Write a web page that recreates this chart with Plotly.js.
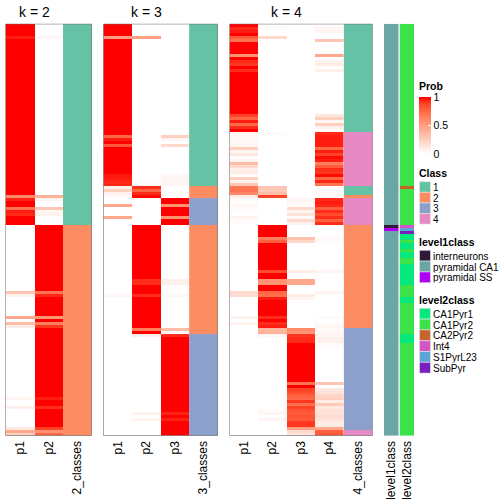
<!DOCTYPE html>
<html>
<head>
<meta charset="utf-8">
<script src="https://cdn.plot.ly/plotly-3.0.1.min.js"></script>
<style>html,body{margin:0;padding:0;background:#fff;}#chart{width:504px;height:504px;}</style>
</head>
<body>
<div id="chart"></div>
<script>
// ---------------- DATA (row order shared by all panels, 137 rows) ----------------
const k2Labels = ['p1', 'p2', '2_classes'];
const k3Labels = ['p1', 'p2', 'p3', '3_classes'];
const k4Labels = ['p1', 'p2', 'p3', 'p4', '4_classes'];
const classNames = ['1', '2', '3', '4'];
const classColors = ['#66C2A5', '#FC8D62', '#8DA0CB', '#E78AC3'];
const level1Names = ['interneurons', 'pyramidal CA1', 'pyramidal SS'];
const level1Colors = ['#2F1B39', '#6AA6A6', '#B000F5'];
const level2Names = ['CA1Pyr1', 'CA1Pyr2', 'CA2Pyr2', 'Int4', 'S1PyrL23', 'SubPyr'];
const level2Colors = ['#04E87C', '#3BE24A', '#C8632A', '#D655C6', '#5BA5D4', '#7A1FBF'];

const k2p1 = [
1,1,1,1,.95,1,1,1,1,1, 1,1,1,1,1,1,1,1,1,1, 1,1,1,1,1,1,1,1,1,1, 1,1,1,1,1,1,1,1,1,1,
1,1,1,1,1,1,1,1,1,1, 1,1,1,1,1,1,1,.6,.94,1, 1,.7,.95,.93,1,1,1,0,0,0, 0,0,0,0,0,0,0,0,0,0,
0,0,0,0,0,0,0,0,0,.3, .07,0,0,0,0,0,0,.45,0,.35, .1,0,0,0,0,0,0,0,0,0, 0,0,0,0,0,0,0,0,0,0,
0,0,0,0,.05,0,0,.08,0,0, 0,0,0,0,.12,.45,.25];
const k2p2 = [
0,0,0,0,.05,0,0,0,0,0, 0,0,0,0,0,0,0,0,0,0, 0,0,0,0,0,0,0,0,0,0, 0,0,0,0,0,0,0,0,0,0,
0,0,0,0,0,0,0,0,0,0, 0,0,0,0,0,0,0,.4,.06,0, 0,.3,.05,.07,0,0,0,1,1,1, 1,1,1,1,1,1,1,1,1,1,
1,1,1,1,1,1,1,1,1,.7, .93,1,1,1,1,1,1,.55,1,.65, .9,1,1,1,1,1,1,1,1,1, 1,1,1,1,1,1,1,1,1,1,
1,1,1,1,.95,1,1,.92,1,1, 1,1,1,1,.88,.55,.75];
const k2cls = [
1,1,1,1,1,1,1,1,1,1, 1,1,1,1,1,1,1,1,1,1, 1,1,1,1,1,1,1,1,1,1, 1,1,1,1,1,1,1,1,1,1,
1,1,1,1,1,1,1,1,1,1, 1,1,1,1,1,1,1,1,1,1, 1,1,1,1,1,1,1,2,2,2, 2,2,2,2,2,2,2,2,2,2,
2,2,2,2,2,2,2,2,2,2, 2,2,2,2,2,2,2,2,2,2, 2,2,2,2,2,2,2,2,2,2, 2,2,2,2,2,2,2,2,2,2,
2,2,2,2,2,2,2,2,2,2, 2,2,2,2,2,2,2];

const k3p1 = [
1,1,1,1,.5,1,1,1,1,1, 1,1,1,1,1,1,1,1,1,1, 1,1,1,1,1,1,1,1,1,1, 1,1,1,1,1,1,1,.75,.95,1,
.8,1,1,1,1,1,1,1,1,1, .96,.95,.93,.93,.08,.25,.06,.02,0,0, .45,0,0,0,.45,0,0,0,0,0, 0,0,0,0,0,0,0,0,0,0,
0,0,0,0,0,0,0,0,0,0, .04,0,0,0,0,0,0,0,0,0, 0,0,0,0,0,0,0,0,0,0, 0,0,0,0,0,0,0,0,0,0,
0,0,0,0,0,0,0,0,0,0, 0,0,0,0,0,0,0];
const k3p2 = [
0,0,0,0,.5,0,0,0,0,0, 0,0,0,0,0,0,0,0,0,0, 0,0,0,0,0,0,0,0,0,0, 0,0,0,0,0,0,0,0,0,0,
0,0,0,0,0,0,0,0,0,0, 0,0,.02,.02,.92,.75,.92,.98,0,0, 0,0,0,0,0,0,0,1,1,1, 1,1,1,1,1,1,1,1,1,1,
1,1,1,1,1,.92,.92,1,1,1, .92,1,1,1,1,1,1,1,1,1, 1,.65,1,.08,0,0,0,0,0,0, 0,0,0,0,0,0,0,0,0,0,
0,0,0,0,0,0,0,0,0,.06, 0,.06,0,0,0,0,0];
const k3p3 = [
0,0,0,0,0,0,0,0,0,0, 0,0,0,0,0,0,0,0,0,0, 0,0,0,0,0,0,0,0,0,0, 0,0,0,0,0,0,0,.25,.05,0,
.2,0,0,0,0,0,0,0,0,0, .04,.05,.05,.05,0,0,.02,0,1,1, .55,1,1,1,.55,1,1,0,0,0, 0,0,0,0,0,0,0,0,0,0,
0,0,0,0,0,.08,.08,0,0,0, .04,0,0,0,0,0,0,0,0,0, 0,.35,0,.92,1,1,1,1,1,1, 1,1,1,1,1,1,1,1,1,1,
1,1,1,1,1,1,1,1,1,.94, 1,.94,1,1,1,1,1];
const k3cls = [
1,1,1,1,1,1,1,1,1,1, 1,1,1,1,1,1,1,1,1,1, 1,1,1,1,1,1,1,1,1,1, 1,1,1,1,1,1,1,1,1,1,
1,1,1,1,1,1,1,1,1,1, 1,1,1,1,2,2,2,2,3,3, 3,3,3,3,3,3,3,2,2,2, 2,2,2,2,2,2,2,2,2,2,
2,2,2,2,2,2,2,2,2,2, 2,2,2,2,2,2,2,2,2,2, 2,2,2,3,3,3,3,3,3,3, 3,3,3,3,3,3,3,3,3,3,
3,3,3,3,3,3,3,3,3,3, 3,3,3,3,3,3,3];

const k4p1 = [
1,.93,.95,1,.8,.7,1,1,1,1, .55,1,.93,.9,1,.92,1,1,1,1, 1,1,1,1,1,1,1,1,1,1, .88,.75,.95,.75,.92,1,.06,.04,.04,.04,
.05,.25,.05,.12,.02,.05,.35,.2,.08,.1, .02,.25,.07,.3,.68,.7,.62,.1,.02,.01, .05,.02,.02,0,.06,.02,.02,0,0,0, 0,0,0,0,0,0,0,0,0,0,
0,0,0,0,0,0,0,0,0,.2, .18,0,0,0,0,0,0,.06,0,.06, 0,0,0,0,0,0,0,0,0,0, 0,0,0,0,0,0,0,0,0,0,
0,0,0,0,0,0,0,0,0,0, 0,0,0,0,0,0,0];
const k4p2 = [
0,.02,0,0,.2,0,0,0,0,0, 0,0,0,0,0,0,0,0,0,0, 0,0,0,0,0,0,0,0,0,0, 0,0,0,0,0,0,.02,0,0,0,
0,0,0,0,0,0,0,0,0,0, 0,0,0,0,.3,.28,.35,.88,0,0, 0,0,0,0,0,0,0,1,1,1, 1,.65,.78,1,1,1,1,1,1,1,
1,1,.85,1,1,.55,.55,1,1,.75, .72,.95,1,1,1,1,1,.92,1,.92, .95,.38,.4,.05,0,0,0,0,0,0, 0,0,0,0,0,0,0,0,0,0,
0,0,0,0,0,0,0,0,.03,.05, 0,.05,0,0,0,0,0];
const k4p3 = [
0,0,0,0,0,0,0,0,0,0, 0,0,0,0,0,0,0,0,0,0, 0,0,0,0,0,0,0,0,0,0, 0,0,0,0,0,0,0,0,0,0,
0,0,0,0,0,0,0,0,0,0, 0,0,0,0,0,0,0,0,.05,.04, .02,.2,.06,.15,.02,.2,.06,0,0,0, 0,.32,.2,0,0,0,0,0,0,0,
0,0,.1,0,0,.45,.45,0,0,0, .1,.05,0,0,0,0,0,0,0,0, 0,.6,.55,.9,.92,.92,1,1,1,1, 1,1,1,1,1,1,1,1,1,.7,
1,.88,.85,.78,.75,.9,.72,.88,.82,.8, .82,.8,.9,.9,.5,.2,.15];
const k4p4 = [
0,.05,.05,0,0,.3,0,0,0,0, .45,0,.07,.1,0,.08,0,0,0,0, 0,0,0,0,0,0,0,0,0,0, .12,.25,.05,.25,.08,0,.92,.95,.95,.95,
.95,.75,.95,.88,.98,.95,.65,.8,.92,.9, .98,.75,.93,.7,.02,.02,.03,.02,.93,.95, .93,.78,.92,.85,.92,.78,.92,0,0,0, 0,.03,.02,0,0,0,0,0,0,0,
0,0,.05,0,0,0,0,0,0,.05, 0,0,0,0,0,0,0,.02,0,.02, .05,.02,.05,.05,.08,.08,.02,.02,0,0, 0,0,0,0,0,0,0,0,0,.3,
0,.12,.15,.22,.25,.1,.28,.12,.15,.15, .18,.15,.1,.1,.45,.78,.82];
const k4cls = [
1,1,1,1,1,1,1,1,1,1, 1,1,1,1,1,1,1,1,1,1, 1,1,1,1,1,1,1,1,1,1, 1,1,1,1,1,1,4,4,4,4,
4,4,4,4,4,4,4,4,4,4, 4,4,4,4,1,1,1,2,4,4, 4,4,4,4,4,4,4,2,2,2, 2,2,2,2,2,2,2,2,2,2,
2,2,2,2,2,2,2,2,2,2, 2,2,2,2,2,2,2,2,2,2, 2,3,3,3,3,3,3,3,3,3, 3,3,3,3,3,3,3,3,3,3,
3,3,3,3,3,3,3,3,3,3, 3,3,3,3,3,4,4];

// level annotations (indices into level1Names / level2Names)
const level1 = [
1,1,1,1,1,1,1,1,1,1, 1,1,1,1,1,1,1,1,1,1, 1,1,1,1,1,1,1,1,1,1, 1,1,1,1,1,1,1,1,1,1,
1,1,1,1,1,1,1,1,1,1, 1,1,1,1,1,1,1,1,1,1, 1,1,1,1,1,1,1,0,2,1, 1,1,1,1,1,1,1,1,1,1,
1,1,1,1,1,1,1,1,1,1, 1,1,1,1,1,1,1,1,1,1, 1,1,1,1,1,1,1,1,1,1, 1,1,1,1,1,1,1,1,1,1,
1,1,1,1,1,1,1,1,1,1, 1,1,1,1,1,1,1];
const level2 = [
1,1,1,1,1,1,1,1,1,1, 1,1,1,1,1,1,1,1,1,1, 1,1,1,1,1,1,1,1,1,1, 1,1,1,1,1,1,1,1,1,1,
1,1,1,1,1,1,1,1,1,1, 1,1,1,1,2,1,1,1,1,1, 1,1,1,1,1,1,1,3,4,5, 0,0,1,0,0,1,0,0,1,1,
0,0,0,0,0,0,0,1,1,1, 1,0,0,1,1,1,1,1,1,1, 1,1,1,0,0,0,1,1,1,1, 1,1,1,1,1,1,1,1,1,1,
1,1,1,1,1,1,1,1,1,1, 1,1,1,1,1,1,1];

const probTicks = [0, 0.5, 1];

// ---------------- BUILD ----------------
const W = 504, H = 504;
const N = k2p1.length;
const FONT = 'Liberation Sans, Arial, sans-serif';
const px = v => v / W;
const py = v => 1 - v / H;

// white -> red interpolated in LAB space (sampled)
const probScale = [[0, '#FFFFFF'], [0.125, '#FFE7DF'], [0.25, '#FFCFBF'], [0.375, '#FFB7A0'],
  [0.5, '#FF9E81'], [0.625, '#FF8463'], [0.75, '#FF6846'], [0.875, '#FF4527'], [1, '#FF0000']];

function stepScale(colors) {
  const n = colors.length, s = [];
  colors.forEach((c, i) => { s.push([i / n, c]); s.push([(i + 1) / n, c]); });
  return s;
}

function probTrace(cols, xa, showscale) {
  const z = [];
  for (let r = 0; r < N; r++) z.push(cols.map(c => c[r]));
  const t = {
    type: 'heatmap', z: z, x0: 0, dx: 1, y0: 0, dy: 1, xaxis: xa, yaxis: 'y',
    colorscale: probScale, zmin: 0, zmax: 1, showscale: showscale, hoverinfo: 'skip', zsmooth: false
  };
  if (showscale) {
    t.colorbar = {
      x: px(419), xanchor: 'left', xpad: 0, y: py(97), yanchor: 'top', ypad: 0,
      len: 57, lenmode: 'pixels', thickness: 12, thicknessmode: 'pixels',
      outlinewidth: 0, tickvals: probTicks, ticktext: probTicks.map(String),
      ticks: 'inside', ticklen: 3, tickcolor: '#ffffff',
      tickfont: { family: FONT, size: 10.5, color: '#000' }
    };
  }
  return t;
}

function catTrace(vals, x0, xa, colors, offset) {
  return {
    type: 'heatmap', z: vals.map(v => [v]), x0: x0, dx: 1, y0: 0, dy: 1, xaxis: xa, yaxis: 'y',
    colorscale: stepScale(colors), zmin: offset - 0.5, zmax: offset + colors.length - 0.5,
    showscale: false, hoverinfo: 'skip', zsmooth: false
  };
}

const data = [
  probTrace([k2p1, k2p2], 'x', true),
  catTrace(k2cls, 2, 'x', classColors, 1),
  probTrace([k3p1, k3p2, k3p3], 'x2', false),
  catTrace(k3cls, 3, 'x2', classColors, 1),
  probTrace([k4p1, k4p2, k4p3, k4p4], 'x3', false),
  catTrace(k4cls, 4, 'x3', classColors, 1),
  catTrace(level1, 0, 'x4', level1Colors, 0),
  catTrace(level2, 0, 'x5', level2Colors, 0)
];

function xaxis(domain, labels) {
  return {
    domain: domain, anchor: 'y', range: [-0.5, labels.length - 0.5],
    tickvals: labels.map((_, i) => i), ticktext: labels, tickangle: -90,
    ticks: '', showgrid: false, zeroline: false, showline: false, automargin: false,
    ticklabelstandoff: 2,
    tickfont: { family: FONT, size: 12, color: '#000' }, fixedrange: true
  };
}

const yTop = 23.8, yBot = 435.7;
const layout = {
  width: W, height: H, margin: { l: 0, r: 0, t: 0, b: 0, pad: 0 },
  paper_bgcolor: '#fff', plot_bgcolor: '#fff', showlegend: false,
  font: { family: FONT, color: '#000' },
  xaxis: xaxis([px(5.5), px(91.8)], k2Labels),
  xaxis2: xaxis([px(103.3), px(217.8)], k3Labels),
  xaxis3: xaxis([px(229.5), px(372.5)], k4Labels),
  xaxis4: xaxis([px(384), px(398.5)], ['level1class']),
  xaxis5: xaxis([px(399.5), px(414)], ['level2class']),
  yaxis: { domain: [py(yBot), py(yTop)], range: [N - 0.5, -0.5], visible: false, fixedrange: true },
  shapes: [],
  annotations: []
};

// panel borders
[['x', 'y', 3], ['x2', 'y', 4], ['x3', 'y', 5]].forEach(([xa, ya, n]) => {
  layout.shapes.push({ type: 'rect', xref: xa, yref: ya, x0: -0.5, x1: n - 0.5, y0: -0.5, y1: N - 0.5,
    line: { color: '#666', width: 1 }, fillcolor: 'rgba(0,0,0,0)' });
});

// panel titles
[['x', 0.5, 'k = 2'], ['x2', 1, 'k = 3'], ['x3', 1.5, 'k = 4']].forEach(([xa, xc, txt]) => {
  layout.annotations.push({ xref: xa, yref: 'paper', x: xc, y: py(11.5), text: txt, showarrow: false,
    xanchor: 'center', yanchor: 'middle', font: { family: FONT, size: 14, color: '#000' } });
});

// legends
function legTitle(txt, yc) {
  layout.annotations.push({ xref: 'paper', yref: 'paper', x: px(418), y: py(yc), text: '<b>' + txt + '</b>',
    showarrow: false, xanchor: 'left', yanchor: 'middle', borderpad: 0, height: 11,
    font: { family: FONT, size: 10.5, color: '#000' } });
}
function legItems(names, colors, top, step) {
  names.forEach((nm, i) => {
    const y0 = top + i * step, y1 = y0 + step;
    layout.shapes.push({ type: 'rect', xref: 'paper', yref: 'paper', x0: px(419.5), x1: px(430.5),
      y0: py(y1), y1: py(y0), fillcolor: colors[i], line: { color: '#e6e6e6', width: 0.6 } });
    layout.annotations.push({ xref: 'paper', yref: 'paper', x: px(432), y: py((y0 + y1) / 2), text: nm,
      showarrow: false, xanchor: 'left', yanchor: 'middle', borderpad: 0, height: step - 0.4,
      font: { family: FONT, size: 10, color: '#000' } });
  });
}
legTitle('Prob', 85.5);
legTitle('Class', 172);
legItems(classNames, classColors, 181.7, 10.6);
legTitle('level1class', 241);
legItems(level1Names, level1Colors, 250.3, 10.8);
legTitle('level2class', 299);
legItems(level2Names, level2Colors, 308.3, 10.8);

Plotly.newPlot('chart', data, layout, { staticPlot: true, displayModeBar: false });
</script>
</body>
</html>
